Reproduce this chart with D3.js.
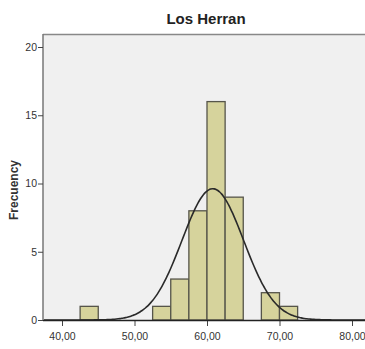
<!DOCTYPE html>
<html lang="en">
<head>
  <meta charset="UTF-8">
  <title>Los Herran</title>
  <script src="https://d3js.org/d3.v7.min.js"></script>
  <style>
    body { margin: 0; background: #fff; }
    svg { display: block; }
    text { font-family: "Liberation Sans Narrow", "Arial Narrow", "Liberation Sans", sans-serif; fill: #333; }
  </style>
</head>
<body>
  <svg width="365" height="349"></svg>

  <script>
    // histogram bins (lower edge, upper edge) and counts
    const binStart = [42.5, 52.5, 55, 57.5, 60, 62.5, 67.5, 70];
    const binEnd   = [45, 55, 57.5, 60, 62.5, 65, 70, 72.5];
    const counts   = [1, 1, 3, 8, 16, 9, 2, 1];

    const xTicks = [40, 50, 60, 70, 80];
    const yTicks = [0, 5, 10, 15, 20];

    // fitted normal curve
    const mean = 60.8;
    const sd = 4.25;
    const binWidth = 2.5;

    const svg = d3.select("svg");

    const x = d3.scaleLinear().domain([40, 80]).range([62, 352]);
    const y = d3.scaleLinear().domain([0, 20]).range([320, 47]);

    // plot background
    svg.append("rect")
      .attr("x", 43).attr("y", 34)
      .attr("width", 365 - 43).attr("height", 320 - 34)
      .attr("fill", "#f0f0f0");

    // frame top line
    svg.append("line")
      .attr("x1", 43).attr("x2", 365)
      .attr("y1", 34.5).attr("y2", 34.5)
      .attr("stroke", "#888").attr("stroke-width", 1.5);

    // bars
    svg.selectAll("rect.bar")
      .data(counts)
      .enter()
      .append("rect")
      .attr("class", "bar")
      .attr("x", (d, i) => x(binStart[i]))
      .attr("y", d => y(d))
      .attr("width", (d, i) => x(binEnd[i]) - x(binStart[i]))
      .attr("height", d => y(0) - y(d))
      .attr("fill", "#d6d39c")
      .attr("stroke", "#56554a")
      .attr("stroke-width", 1.3);

    svg.append("clipPath").attr("id", "clip")
      .append("rect").attr("x", 43).attr("y", 34).attr("width", 322).attr("height", 287);

    // normal curve
    const total = d3.sum(counts);
    const pdf = v => total * binWidth / (sd * Math.sqrt(2 * Math.PI)) *
      Math.exp(-0.5 * ((v - mean) / sd) ** 2);
    const curveX = d3.range(37.5, 82.01, 0.25);
    svg.append("path")
      .datum(curveX)
      .attr("fill", "none")
      .attr("stroke", "#2a2a2a")
      .attr("stroke-width", 1.6)
      .attr("d", d3.line().x(d => x(d)).y(d => y(pdf(d))).curve(d3.curveBasis))
      .attr("clip-path", "url(#clip)");

    // axes
    const xAxis = svg.append("g")
      .attr("transform", "translate(0,320)")
      .call(d3.axisBottom(x).tickValues(xTicks).tickSize(6).tickSizeOuter(0)
        .tickFormat(d => d3.format(".2f")(d).replace(".", ",")));
    xAxis.select(".domain").remove();
    svg.append("line")
      .attr("x1", 43).attr("x2", 365)
      .attr("y1", 320.5).attr("y2", 320.5)
      .attr("stroke", "#222").attr("stroke-width", 1.5);
    xAxis.selectAll(".tick line").attr("stroke", "#444");
    xAxis.selectAll("text").attr("font-size", 10.5).attr("y", 11).attr("dy", "0.9em");

    const yAxis = svg.append("g")
      .attr("transform", "translate(43,0)")
      .call(d3.axisLeft(y).tickValues(yTicks).tickSize(5).tickSizeOuter(0));
    yAxis.select(".domain").attr("stroke", "#777").attr("stroke-width", 1.5)
      .attr("d", "M0,34V320");
    yAxis.selectAll(".tick line").attr("stroke", "#444");
    yAxis.selectAll("text").attr("font-size", 10.5).attr("x", -6);

    // title
    svg.append("text")
      .attr("x", 206).attr("y", 24)
      .attr("text-anchor", "middle")
      .attr("font-size", 15)
      .attr("font-weight", "bold")
      .style("fill", "#222")
      .text("Los Herran");

    // y label
    svg.append("text")
      .attr("transform", "translate(18,190) rotate(-90)")
      .attr("text-anchor", "middle")
      .attr("font-size", 12)
      .attr("font-weight", "bold")
      .style("fill", "#333")
      .text("Frecuency");
  </script>
</body>
</html>
